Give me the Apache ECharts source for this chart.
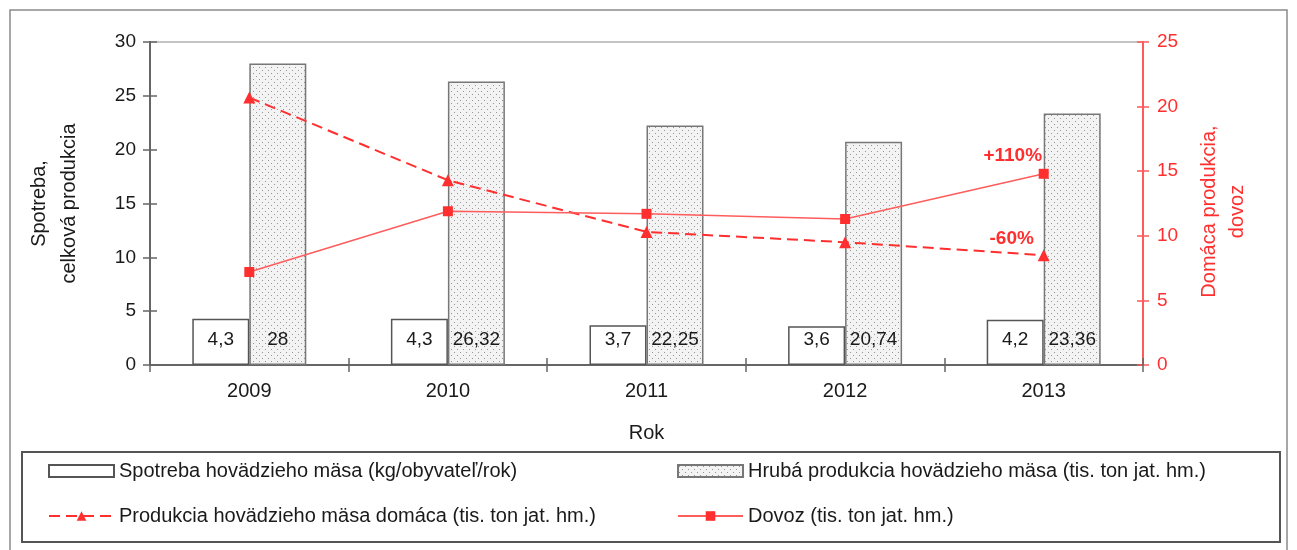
<!DOCTYPE html>
<html>
<head>
<meta charset="utf-8">
<script src="https://cdn.jsdelivr.net/npm/echarts@6/dist/echarts.min.js"></script>
<style>
html,body{margin:0;padding:0;background:#fff;}
#c{width:1297px;height:550px;}
</style>
</head>
<body>
<div id="c"></div>
<script>
var categories = ['2009', '2010', '2011', '2012', '2013'];
var spotreba = [4.3, 4.3, 3.7, 3.6, 4.2];
var hruba = [28, 26.32, 22.25, 20.74, 23.36];
var domaca = [20.7, 14.3, 10.3, 9.5, 8.5];
var dovoz = [7.2, 11.9, 11.7, 11.3, 14.8];
var leftTicks = {min: 0, max: 30, interval: 5};
var rightTicks = {min: 0, max: 25, interval: 5};
var notes = ['+110%', '-60%'];

var names = {
  spotreba: 'Spotreba hovädzieho mäsa (kg/obyvateľ/rok)',
  hruba: 'Hrubá produkcia hovädzieho mäsa (tis. ton jat. hm.)',
  domaca: 'Produkcia hovädzieho mäsa domáca (tis. ton jat. hm.)',
  dovoz: 'Dovoz (tis. ton jat. hm.)'
};

// dotted pattern
var pc = document.createElement('canvas');
pc.width = 6; pc.height = 6;
var g = pc.getContext('2d');
g.fillStyle = '#f3f3f3'; g.fillRect(0, 0, 6, 6);
g.fillStyle = '#969696';
g.fillRect(1, 1, 1, 1);
g.fillRect(4, 4, 1, 1);

var FONT = '"Liberation Sans", Arial, sans-serif';
var RED = '#ff2f2f';
var TXT = '#1a1a1a';
var fmt = function (p) { return String(p.value).replace('.', ','); };

var chart = echarts.init(document.getElementById('c'), null, {renderer: 'canvas'});
chart.setOption({
  animation: false,
  textStyle: {fontFamily: FONT},
  grid: {left: 150, right: 154, top: 42, bottom: 185, show: true, borderColor: '#c4c4c4', borderWidth: 2, containLabel: false},
  legend: [{
    orient: 'vertical', left: 48, top: 461, padding: 0, itemWidth: 65, itemHeight: 12, itemGap: 25,
    textStyle: {fontSize: 20, color: TXT, lineHeight: 20, fontFamily: FONT},
    data: [{name: names.spotreba, icon: 'rect'}, {name: names.domaca}]
  }, {
    orient: 'vertical', left: 677, top: 461, padding: 0, itemWidth: 65, itemHeight: 12, itemGap: 25,
    textStyle: {fontSize: 20, color: TXT, lineHeight: 20, fontFamily: FONT},
    data: [{name: names.hruba, icon: 'rect'}, {name: names.dovoz}]
  }],
  graphic: [
    {type: 'rect', shape: {x: 10, y: 10, width: 1277, height: 560}, style: {fill: 'none', stroke: '#8a8a8a', lineWidth: 1.5}, silent: true},
    {type: 'rect', shape: {x: 22, y: 452, width: 1258, height: 90}, style: {fill: 'none', stroke: '#555', lineWidth: 2}, silent: true}
  ],
  xAxis: [{
    type: 'category', data: categories, position: 'bottom',
    axisLine: {lineStyle: {color: '#666', width: 2}},
    axisTick: {show: true, length: 7, lineStyle: {color: '#666', width: 1.5}},
    axisLabel: {fontSize: 20, color: TXT, margin: 16, fontFamily: FONT},
    name: 'Rok', nameLocation: 'middle', nameGap: 58,
    nameTextStyle: {fontSize: 20, color: TXT, fontFamily: FONT}
  }, {
    type: 'category', data: categories, position: 'bottom', gridIndex: 0,
    axisLine: {show: false}, axisLabel: {show: false},
    axisTick: {show: true, inside: true, length: 7, lineStyle: {color: '#666', width: 1.5}}
  }],
  yAxis: [{
    type: 'value', position: 'left', min: leftTicks.min, max: leftTicks.max, interval: leftTicks.interval,
    axisLine: {show: true, lineStyle: {color: '#666', width: 2}},
    axisTick: {show: true, length: 7, lineStyle: {color: '#666', width: 1.5}},
    splitLine: {show: false},
    axisLabel: {fontSize: 19, color: TXT, margin: 14, fontFamily: FONT},
    name: 'Spotreba,\ncelková produkcia', nameLocation: 'middle', nameGap: 66, nameRotate: 90,
    nameTextStyle: {fontSize: 20, color: TXT, lineHeight: 30, fontFamily: FONT}
  }, {
    type: 'value', position: 'right', min: rightTicks.min, max: rightTicks.max, interval: rightTicks.interval,
    axisLine: {show: true, lineStyle: {color: '#ff5a5a', width: 2}},
    axisTick: {show: true, length: 6, lineStyle: {color: '#ff5a5a', width: 1.5}},
    splitLine: {show: false},
    axisLabel: {fontSize: 19, color: RED, margin: 14, fontFamily: FONT},
    name: 'Domáca produkcia,\ndovoz', nameLocation: 'middle', nameGap: 52, nameRotate: 90,
    nameTextStyle: {fontSize: 20, color: RED, lineHeight: 28, fontFamily: FONT, padding: [0, 16, 0, 0]}
  }, {
    type: 'value', position: 'left', min: leftTicks.min, max: leftTicks.max, interval: leftTicks.interval,
    axisLine: {show: false}, axisLabel: {show: false}, splitLine: {show: false},
    axisTick: {show: true, inside: true, length: 7, lineStyle: {color: '#666', width: 1.5}}
  }, {
    type: 'value', position: 'right', min: rightTicks.min, max: rightTicks.max, interval: rightTicks.interval,
    axisLine: {show: false}, axisLabel: {show: false}, splitLine: {show: false},
    axisTick: {show: true, inside: true, length: 6, lineStyle: {color: '#ff5a5a', width: 1.5}}
  }],
  series: [{
    name: names.spotreba, type: 'bar', yAxisIndex: 0, data: spotreba,
    barWidth: 57, barGap: '0%',
    itemStyle: {color: '#ffffff', borderColor: '#555', borderWidth: 1.5},
    label: {show: true, position: 'insideBottom', distance: 16, fontSize: 19, color: TXT, formatter: fmt, fontFamily: FONT}
  }, {
    name: names.hruba, type: 'bar', yAxisIndex: 0, data: hruba,
    barWidth: 57, barGap: '0%',
    itemStyle: {color: {image: pc, repeat: 'repeat'}, borderColor: '#777', borderWidth: 1.5},
    label: {show: true, position: 'insideBottom', distance: 16, fontSize: 19, color: TXT, formatter: fmt, fontFamily: FONT}
  }, {
    name: names.domaca, type: 'line', yAxisIndex: 1, data: domaca.map(function (v, i) {
      return i === domaca.length - 1 ? {value: v, label: {show: true, formatter: notes[1]}} : v;
    }),
    symbol: 'triangle', symbolSize: 12,
    lineStyle: {color: RED, width: 2, type: [11, 6]},
    itemStyle: {color: RED},
    label: {show: false, position: 'top', offset: [-32, 4], fontSize: 19, fontWeight: 'bold', color: RED, fontFamily: FONT}
  }, {
    name: names.dovoz, type: 'line', yAxisIndex: 1, data: dovoz.map(function (v, i) {
      return i === dovoz.length - 1 ? {value: v, label: {show: true, formatter: notes[0]}} : v;
    }),
    symbol: 'rect', symbolSize: 10,
    lineStyle: {color: '#ff5c5c', width: 1.5},
    itemStyle: {color: RED},
    label: {show: false, position: 'top', offset: [-31, 1], fontSize: 19, fontWeight: 'bold', color: RED, fontFamily: FONT}
  }]
});
</script>
</body>
</html>
